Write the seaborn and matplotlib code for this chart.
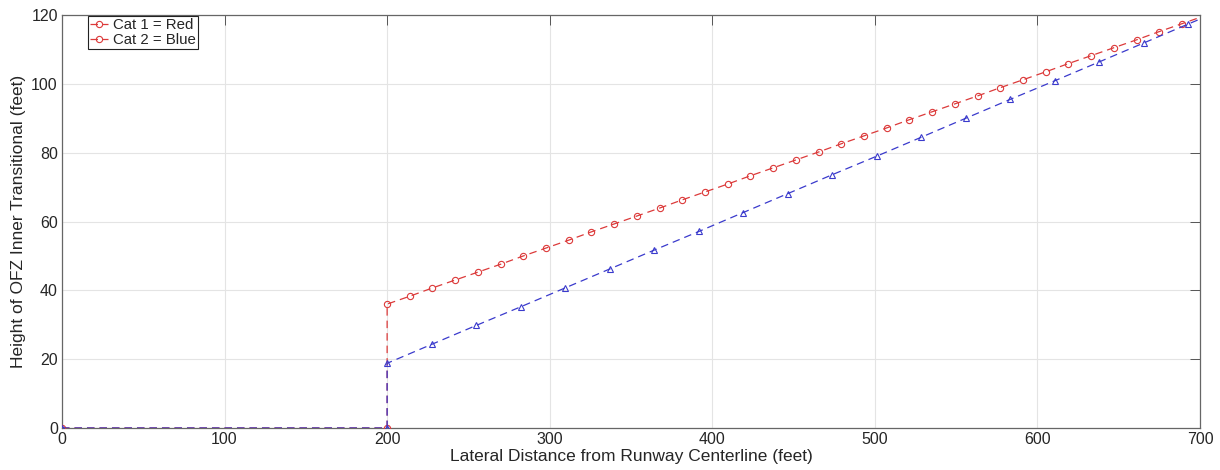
import matplotlib
matplotlib.use("Agg")
import matplotlib.pyplot as plt
import seaborn as sns
import pandas as pd

# Cat 1 (red): values
cat1_x = [0, 200, 200, 214.0, 227.9, 241.9, 255.9, 269.9, 283.8, 297.8, 311.8,
          325.7, 339.7, 353.7, 367.6, 381.6, 395.6, 409.6, 423.5, 437.5, 451.5,
          465.4, 479.4, 493.4, 507.3, 521.3, 535.3, 549.3, 563.2, 577.2, 591.2,
          605.1, 619.1, 633.1, 647.0, 661.0, 675.0, 689.0, 702.9]
cat1_y = [0, 0, 36.0, 38.3, 40.7, 43.0, 45.3, 47.6, 50.0, 52.3, 54.6,
          57.0, 59.3, 61.6, 63.9, 66.3, 68.6, 70.9, 73.3, 75.6, 77.9,
          80.2, 82.6, 84.9, 87.2, 89.6, 91.9, 94.2, 96.5, 98.9, 101.2,
          103.5, 105.9, 108.2, 110.5, 112.8, 115.2, 117.5, 119.8]

# Cat 2 (blue)
cat2_x = [0, 200, 200, 227.4, 254.8, 282.1, 309.5, 336.9, 364.3, 391.7, 419.0,
          446.4, 473.8, 501.2, 528.6, 555.9, 583.3, 610.7, 638.1, 665.5, 692.8,
          720.2]
cat2_y = [0, 0, 18.8, 24.3, 29.8, 35.2, 40.7, 46.2, 51.7, 57.1, 62.6,
          68.1, 73.6, 79.0, 84.5, 90.0, 95.5, 100.9, 106.4, 111.9, 117.4,
          122.8]

legend_labels = ["Cat 1 = Red", "Cat 2 = Blue"]
x_ticks = [0, 100, 200, 300, 400, 500, 600, 700]
y_ticks = [0, 20, 40, 60, 80, 100, 120]

sns.set_style("white")
plt.rcParams["font.family"] = ["Liberation Sans", "DejaVu Sans"]

fig = plt.figure(figsize=(12.2, 4.7), dpi=100)
ax = fig.add_axes([0.0508, 0.0894, 0.9328, 0.8786])

red = "#dc3a3a"
blue = "#3a3acc"

df1 = pd.DataFrame({"x": cat1_x, "y": cat1_y})
df2 = pd.DataFrame({"x": cat2_x, "y": cat2_y})

sns.lineplot(data=df1, x="x", y="y", sort=False, estimator=None, ax=ax,
             color=red, linewidth=0.9, linestyle=(0, (6, 4)),
             marker="o", markersize=4.5, markerfacecolor="none",
             markeredgecolor=red, markeredgewidth=0.8, zorder=3)
sns.lineplot(data=df2, x="x", y="y", sort=False, estimator=None, ax=ax,
             color=blue, linewidth=0.9, linestyle=(0, (6, 4)),
             marker="^", markersize=4.5, markerfacecolor="none",
             markeredgecolor=blue, markeredgewidth=0.8, zorder=4)

ax.set_xlim(0, 700)
ax.set_ylim(0, 120)
ax.set_xticks(x_ticks)
ax.set_yticks(y_ticks)
ax.grid(True, color="#e4e4e4", linewidth=0.8)
ax.set_axisbelow(True)

for s in ax.spines.values():
    s.set_visible(True)
    s.set_color("#666666")
    s.set_linewidth(0.9)

ax.tick_params(axis="both", which="both", direction="in", length=7, width=0.7,
               color="#555555", top=True, right=True, labelsize=11.5,
               labelcolor="#262626", pad=3)

ax.set_xlabel("Lateral Distance from Runway Centerline (feet)", fontsize=12.5,
              color="#262626", labelpad=1)
ax.set_ylabel("Height of OFZ Inner Transitional (feet)", fontsize=12.5,
              color="#262626", labelpad=4)

red_line = ax.get_lines()[0]
leg = ax.legend([red_line, red_line], legend_labels, loc="upper left",
                bbox_to_anchor=(0.0225, 0.998), borderaxespad=0, frameon=True,
                fancybox=False, edgecolor="#222222", framealpha=1,
                fontsize=10.8, handlelength=1.2, handletextpad=0.35,
                labelspacing=0.05, borderpad=0.15)
leg.get_frame().set_linewidth(0.8)

fig.savefig("out.png", dpi=100)
